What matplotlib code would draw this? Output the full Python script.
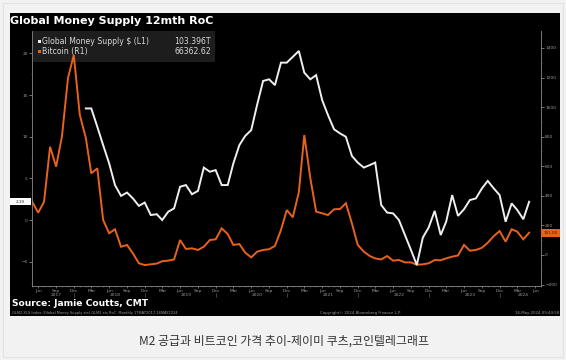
import matplotlib
matplotlib.use('Agg')
import matplotlib.pyplot as plt
import matplotlib.dates as mdates
import matplotlib.transforms as mtrans
from matplotlib.patches import Rectangle
import pandas as pd

W, H = 566, 360

# ---------------- data ----------------
bitcoin_dates = pd.date_range('2017-05-01', '2024-05-01', freq='MS')
bitcoin_roc = [
    360, 286, 360, 732, 597, 800, 1195, 1352,                      # 2017 May-Dec
    947, 791, 552, 586, 237, 147, 174, 56, 68, 11, -56, -68,       # 2018
    -63, -58, -42, -38, -30, 101, 41, 45, 34, 56, 101, 106,        # 2019
    180, 142, 68, 74, 16, -16, 22, 34, 39, 61, 169, 304,           # 2020
    255, 425, 811, 520, 293, 282, 270, 309, 311, 350, 214, 68,     # 2021
    23, -7, -23, -30, -7, -38, -34, -50, -50, -66, -63, -56,       # 2022
    -34, -36, -23, -11, -3, 68, 29, 34, 49, 83, 128, 162,          # 2023
    90, 174, 158, 106, 151,                                        # 2024 Jan-May
]
gms_dates = pd.date_range('2018-02-01', '2024-05-01', freq='MS')
gms_roc = [
    13.4, 13.4, 11.2, 9.0, 6.8, 4.2, 2.9, 3.3, 2.6, 1.7, 2.1,      # 2018 Feb-Dec
    0.6, 0.7, 0.0, 1.0, 1.4, 4.0, 4.2, 3.1, 3.5, 6.3, 5.8, 6.0,    # 2019
    4.2, 4.2, 6.8, 9.0, 10.1, 10.8, 13.8, 16.7, 16.9, 16.2, 18.9, 18.9,  # 2020
    19.6, 20.3, 17.7, 16.9, 17.4, 14.4, 12.6, 10.9, 10.4, 10.0, 7.7, 6.9,  # 2021
    6.3, 6.6, 6.9, 1.8, 0.9, 0.8, 0.0, -1.8, -3.6, -5.4, -2.1, -0.9,     # 2022
    1.1, -1.8, -0.2, 3.0, 0.5, 1.3, 2.4, 2.6, 3.8, 4.7, 3.8, 3.0,        # 2023
    -0.2, 2.0, 1.2, 0.1, 2.2,                                            # 2024
]
left_ticks = [-5, 0, 5, 10, 15, 20]
right_ticks = [-200, 0, 200, 400, 600, 800, 1000, 1200, 1400]
year_labels = ['2017', '2018', '2019', '2020', '2021', '2022', '2023', '2024']

title_text = 'Global Money Supply 12mth RoC'
legend_names = ['Global Money Supply $ (L1)', 'Bitcoin (R1)']
legend_values = ['103.396T', '66362.62']
left_box_text = '2.19'
right_box_text = '151.05'
source_text = 'Source: Jamie Coutts, CMT'
footer_text = 'GLM2.XLS Index (Global Money Supply sts) GLM2 sts RoC  Monthly 17MAY2017-16MAY2024'
copyright_text = 'Copyright\u00a9 2024 Bloomberg Finance L.P.'
stamp_text = '16-May-2024 09:44:58'
caption_text = 'M2 공급과 비트코인 가격 추이-제이미 쿠츠,코인텔레그래프'

WHITE = '#efefef'
ORANGE = '#e8621c'
GRAY = '#9a9a9a'


def fx(x):
    return x / W


def fy(y):
    return 1 - y / H


fig = plt.figure(figsize=(W / 100, H / 100), dpi=100, facecolor='#f2f2f2')

# page border + black panel + legend box (behind axes)
fig.patches.append(Rectangle((fx(3), fy(357)), fx(560), (354) / H, transform=fig.transFigure,
                             fc='none', ec='#e2e2e2', lw=0.8, zorder=-3))
fig.patches.append(Rectangle((fx(10), fy(316)), fx(550), (316 - 13) / H, transform=fig.transFigure,
                             fc='black', ec='none', zorder=-2))
fig.patches.append(Rectangle((fx(33), fy(62)), fx(215 - 33), 31 / H, transform=fig.transFigure,
                             fc='#1d1d1d', ec='none', zorder=-1))

ax = fig.add_axes([fx(32), fy(286), fx(541 - 32), (286 - 31) / H])
ax.set_facecolor('none')
ax2 = ax.twinx()
ax2.set_facecolor('none')
ax2.set_zorder(0)
ax.set_zorder(1)

ax2.plot(bitcoin_dates, bitcoin_roc, color=ORANGE, lw=1.4, solid_joinstyle='miter', zorder=3)
ax.plot(gms_dates, gms_roc, color=WHITE, lw=1.4, solid_joinstyle='miter', zorder=4)

ax.set_xlim(pd.Timestamp('2017-04-30'), pd.Timestamp('2024-07-01'))
ax.set_ylim(-7.92, 22.7)
ax2.set_ylim(-209.6, 1514.5)

for a in (ax, ax2):
    for s in a.spines.values():
        s.set_visible(False)
ax.spines['left'].set_visible(True)
ax.spines['bottom'].set_visible(True)
ax2.spines['right'].set_visible(True)
for s in (ax.spines['left'], ax.spines['bottom'], ax2.spines['right']):
    s.set_color('#8a8a8a')
    s.set_linewidth(0.6)

ax.set_yticks(left_ticks)
ax.set_yticks([t + 2.5 for t in left_ticks[:-1]] + [-7.5], minor=True)
ax2.set_yticks(right_ticks)
ax2.set_yticks([t + 100 for t in right_ticks], minor=True)

ax.xaxis.set_major_locator(mdates.MonthLocator(bymonth=[3, 6, 9, 12]))
ax.xaxis.set_major_formatter(mdates.DateFormatter('%b'))
ax.xaxis.set_minor_locator(mdates.MonthLocator())

ax.tick_params(axis='y', which='major', colors='#8a8a8a', labelcolor=GRAY, labelsize=3.2,
               length=2, width=0.6, pad=1, direction='out')
ax.tick_params(axis='y', which='minor', colors='#6a6a6a', length=1, width=0.4, direction='out')
ax2.tick_params(axis='y', which='major', colors='#8a8a8a', labelcolor=GRAY, labelsize=3.2,
                length=2, width=0.6, pad=1, direction='out')
ax2.tick_params(axis='y', which='minor', colors='#6a6a6a', length=1, width=0.4, direction='out')
ax.tick_params(axis='x', which='major', colors='#8a8a8a', labelcolor=GRAY, labelsize=3.2,
               length=1.5, width=0.5, pad=0.8, direction='out')
ax.tick_params(axis='x', which='minor', colors='#6a6a6a', length=0.8, width=0.4, direction='out')

# year labels centered on visible portion of each year
xmin, xmax = ax.get_xlim()
bt = mtrans.blended_transform_factory(ax.transData, ax.transAxes)
for lab in year_labels:
    y = int(lab)
    a0 = max(mdates.date2num(pd.Timestamp(f'{y}-01-01')), xmin)
    a1 = min(mdates.date2num(pd.Timestamp(f'{y + 1}-01-01')), xmax)
    ax.text((a0 + a1) / 2, -9.3 / 255, lab, transform=bt, ha='center', va='center',
            fontsize=3.2, color=GRAY, clip_on=False)
for y in range(2017, 2024):
    xd = mdates.date2num(pd.Timestamp(f'{y}-12-01'))
    ax.plot([xd, xd], [-6.8 / 255, -11 / 255], transform=bt, color='#6a6a6a', lw=0.4, clip_on=False)

# last-value boxes
lbt = mtrans.blended_transform_factory(fig.transFigure, ax.transData)
last_g = gms_roc[-1]
ax.add_patch(Rectangle((fx(10), last_g - 0.42), fx(31) - fx(10), 0.84, transform=lbt,
                       fc='white', ec='none', clip_on=False, zorder=6))
ax.text(fx(20.5), last_g, left_box_text, transform=lbt, ha='center', va='center',
        fontsize=3, color='#222222', clip_on=False, zorder=7)
rbt = mtrans.blended_transform_factory(fig.transFigure, ax2.transData)
last_b = bitcoin_roc[-1]
ax2.add_patch(Rectangle((fx(541), last_b - 27), fx(560) - fx(541), 54, transform=rbt,
                        fc=ORANGE, ec='none', clip_on=False, zorder=6))
ax2.text(fx(550.5), last_b, right_box_text, transform=rbt, ha='center', va='center',
         fontsize=3, color='#3a1500', clip_on=False, zorder=7)

# legend entries
for i, (nm, val, col) in enumerate(zip(legend_names, legend_values, [WHITE, ORANGE])):
    yy = 41.7 + 10 * i
    fig.patches.append(Rectangle((fx(38), fy(yy + 1.6)), fx(3.2), 3.2 / H, transform=fig.transFigure,
                                 fc=col, ec='none', zorder=2))
    fig.text(fx(42.5), fy(yy), nm, fontsize=5.6, color='#d8d8d8', ha='left', va='center', zorder=3)
    fig.text(fx(211), fy(yy), val, fontsize=5.6, color='#d8d8d8', ha='right', va='center', zorder=3)

# titles and footers
fig.text(fx(10), fy(21), title_text, fontsize=8, fontweight='bold', color='white',
         ha='left', va='center')
fig.text(fx(12), fy(304), source_text, fontsize=6.6, fontweight='bold', color='white',
         ha='left', va='center')
fig.text(fx(12), fy(312.7), footer_text, fontsize=2.6, color='#9a9a9a', ha='left', va='center')
fig.text(fx(360), fy(313), copyright_text, fontsize=2.8, color='#9a9a9a', ha='center', va='center')
fig.text(fx(559), fy(313), stamp_text, fontsize=2.8, color='#9a9a9a', ha='right', va='center')

fig.text(fx(284), fy(341), caption_text, fontsize=8.6, color='#333333', ha='center', va='center',
         family=['Noto Sans CJK KR', 'DejaVu Sans'])

fig.savefig('out.png', dpi=100, facecolor=fig.get_facecolor())
